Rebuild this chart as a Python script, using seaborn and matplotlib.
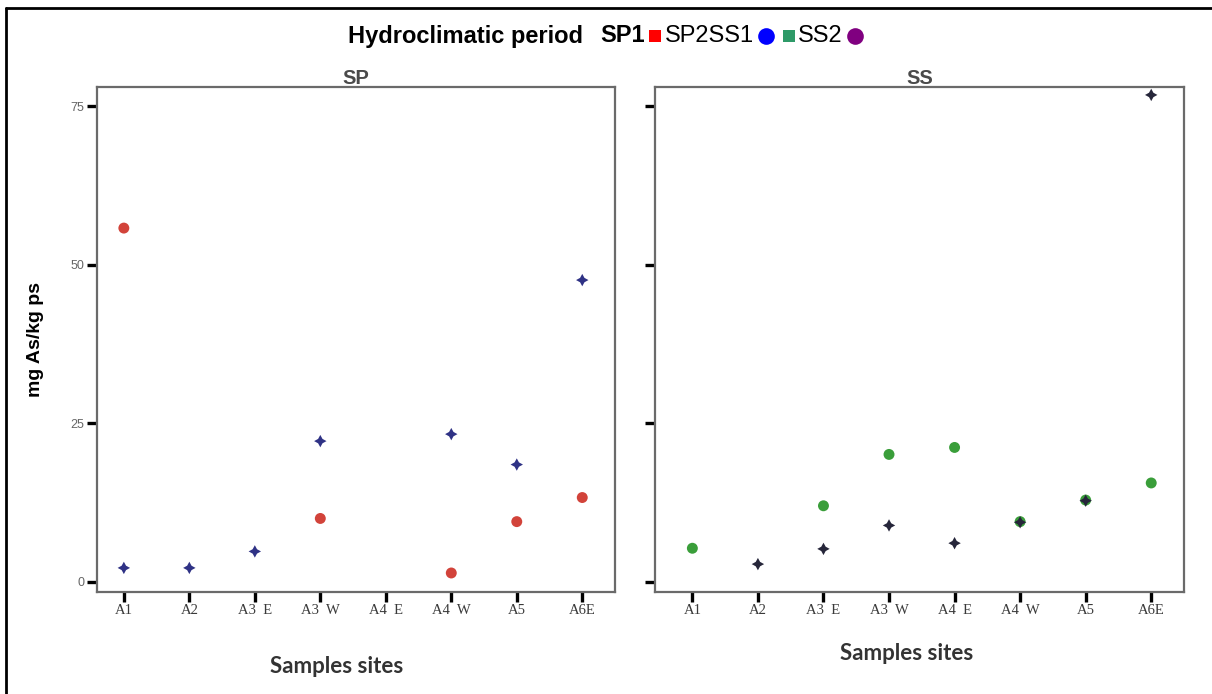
import numpy as np
import pandas as pd
import matplotlib
matplotlib.use("Agg")
import matplotlib.pyplot as plt
from matplotlib.lines import Line2D
import seaborn as sns

# ---- data ----
sites = ["A1", "A2", "A3  E", "A3  W", "A4  E", "A4  W", "A5", "A6E"]
sp1 = [55.8, None, None, 10.0, None, 1.4, 9.5, 13.3]     # SP panel, circles
sp2 = [2.2, 2.2, 4.8, 22.2, None, 23.3, 18.5, 47.6]      # SP panel, stars
ss1 = [5.3, None, 12.0, 20.1, 21.2, 9.5, 12.9, 15.6]     # SS panel, circles
ss2 = [None, 2.8, 5.2, 8.9, 6.1, 9.4, 12.8, 76.8]        # SS panel, stars
y_ticks = [0, 25, 50, 75]
panels = ["SP", "SS"]

rows = []
for panel, series in [("SP", [("SP1", sp1), ("SP2", sp2)]),
                      ("SS", [("SS1", ss1), ("SS2", ss2)])]:
    for name, vals in series:
        for i, v in enumerate(vals):
            if v is not None:
                rows.append({"panel": panel, "period": name, "site": sites[i],
                             "pos": i, "value": v})
df = pd.DataFrame(rows)

palette = {"SP1": "#d2433a", "SP2": "#2f3285", "SS1": "#3a9e3a", "SS2": "#26263a"}
star = (4, 1, 0)
markers = {"SP1": "o", "SP2": star, "SS1": "o", "SS2": star}
sizes = {"SP1": 62, "SP2": 80, "SS1": 62, "SS2": 80}

sns.set_theme(style="white")
plt.rcParams["font.family"] = ["Liberation Sans", "DejaVu Sans"]
plt.rcParams["text.color"] = "black"

W, H = 1212, 694
fig = plt.figure(figsize=(W / 100, H / 100), dpi=100)

ax_pos = {
    "SP": [97 / W, 1 - 592 / H, (615 - 97) / W, (592 - 86.7) / H],
    "SS": [655 / W, 1 - 592 / H, (1184 - 655) / W, (592 - 86.7) / H],
}
xlims = {"SP": (-0.41, 7.5), "SS": (-0.57, 7.5)}
xlabel_xy = {"SP": ((337 - 97) / 518, (592 - 656) / 505.3),
             "SS": ((907 - 655) / 529, (592 - 643) / 505.3)}

for panel in panels:
    ax = fig.add_axes(ax_pos[panel])
    sub = df[df["panel"] == panel]
    sns.scatterplot(data=sub, x="pos", y="value", hue="period", style="period",
                    size="period", sizes=sizes, markers=markers, palette=palette,
                    linewidth=0, legend=False, ax=ax, zorder=3)
    ax.set_xlim(*xlims[panel])
    ax.set_ylim(-1.6, 78.1)
    ax.set_xticks(range(len(sites)))
    ax.set_xticklabels(sites, family="Liberation Serif", fontsize=10.5, color="#3a3a3a")
    ax.set_yticks(y_ticks)
    if panel == "SP":
        ax.set_yticklabels([str(t) for t in y_ticks], fontsize=9, color="#666666")
        ax.set_ylabel("mg As/kg ps", fontsize=14, fontweight="bold", color="black")
        ax.yaxis.set_label_coords(-0.102, 0.5)
    else:
        ax.set_yticklabels([])
        ax.set_ylabel("")
    ax.tick_params(axis="both", which="major", length=7, width=2.4, color="black",
                   direction="out", pad=2, left=True, bottom=True)
    for sp in ax.spines.values():
        sp.set_color("#6a6a6a")
        sp.set_linewidth(1.6)
    ax.set_xlabel("Samples sites", family="Lato", fontweight="bold", fontsize=16,
                  color="#333333")
    ax.xaxis.set_label_coords(*xlabel_xy[panel])
    ax.set_title(panel, fontsize=14.5, fontweight="bold", color="#4a4a4a", pad=2)
    ax.grid(False)

# ---- legend line at top (text + swatches as in the reference) ----
ly = 1 - 36 / H
fs = 17
fig.text(347.5 / W, ly, "Hydroclimatic period", fontsize=fs, fontweight="bold",
         va="center", ha="left", color="black")
fig.text(600 / W, ly, "SP1", fontsize=fs, fontweight="bold", va="center", ha="left",
         color="black")
fig.text(665 / W, ly, "SP2SS1", fontsize=fs, va="center", ha="left", color="black")
fig.text(798 / W, ly, "SS2", fontsize=fs, va="center", ha="left", color="black")
for xc, mk, col, ms in [(655, "s", "#ff0000", 9), (766, "o", "#0000ff", 12),
                        (789, "s", "#2e9a68", 9), (855, "o", "#800080", 12)]:
    fig.add_artist(Line2D([xc / W], [ly], marker=mk, color=col, markersize=ms,
                          linestyle="none", markeredgewidth=0,
                          transform=fig.transFigure))

# ---- outer frame (left and top edges visible) ----
fig.add_artist(Line2D([6 / W, 6 / W], [0, 1 - 8 / H], color="black", linewidth=2,
                      transform=fig.transFigure))
fig.add_artist(Line2D([6 / W, 1], [1 - 8 / H, 1 - 8 / H], color="black", linewidth=2,
                      transform=fig.transFigure))

fig.savefig("out.png", dpi=100)
